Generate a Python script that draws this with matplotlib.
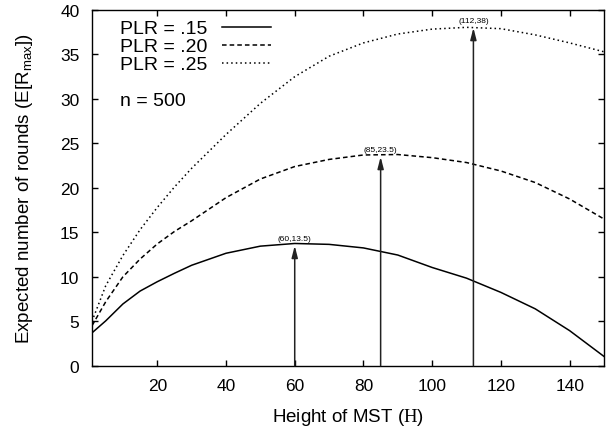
"""
Expected number of rounds vs height of MST for three PLR values.
"""

import matplotlib
matplotlib.use('Agg')
import matplotlib.pyplot as plt

plt.rcParams['font.family'] = ['Liberation Sans', 'DejaVu Sans']
plt.rcParams['mathtext.fontset'] = 'custom'
plt.rcParams['mathtext.rm'] = 'Liberation Serif'
plt.rcParams['mathtext.sf'] = 'Liberation Sans'

#######################################################################################################################
# Data

height = [1, 5, 10, 15, 20, 25, 30, 40, 50, 60, 70, 80, 90, 100, 110, 120, 130, 140, 150]

rounds_15 = [3.7, 5.05, 6.95, 8.4, 9.45, 10.4, 11.3, 12.65, 13.45, 13.75, 13.65, 13.25, 12.45,
             11.05, 9.85, 8.25, 6.4, 3.95, 1.05]
rounds_20 = [4.5, 7.2, 10.0, 12.0, 13.7, 15.1, 16.3, 18.9, 21.0, 22.4, 23.2, 23.7, 23.75,
             23.4, 22.85, 21.9, 20.6, 18.75, 16.5]
rounds_25 = [5.0, 9.0, 12.4, 15.3, 17.8, 20.1, 22.2, 26.0, 29.5, 32.5, 34.8, 36.3, 37.3,
             37.85, 38.05, 37.9, 37.2, 36.3, 35.3]

peak_x = [60, 85, 112]
peak_y = [13.5, 23.5, 38]
peak_labels = ['(60,13.5)', '(85,23.5)', '(112,38)']

legend_labels = ['PLR = .15', 'PLR = .20', 'PLR = .25']

#######################################################################################################################
# Plot

fig = plt.figure(figsize=(6.14, 4.31), dpi=100)
ax = fig.add_axes([0.1498, 0.149, 0.8339, 0.8255])

ax.plot(height, rounds_15, '-', color='black', lw=1.1, label=legend_labels[0])
ax.plot(height, rounds_20, '--', color='black', lw=1.1, dashes=(3, 2), label=legend_labels[1])
ax.plot(height, rounds_25, ':', color='black', lw=1.1, dashes=(1, 2), label=legend_labels[2])

# arrows up to the maxima
for px, py, lab in zip(peak_x, peak_y, peak_labels):
    ax.annotate('', xy=(px, py), xytext=(px, 0),
                arrowprops=dict(arrowstyle='-|>,head_length=0.7,head_width=0.18', color='#222222', lw=1.1,
                                shrinkA=0, shrinkB=0))
    ax.annotate(lab, xy=(px, py), xytext=(0, 3), textcoords='offset points',
                ha='center', va='bottom', fontsize=6)

ax.set_xlim(1, 150)
ax.set_ylim(0, 40)
ax.set_xticks(range(20, 141, 20))
ax.set_yticks(range(0, 41, 5))
ax.tick_params(direction='in', top=True, right=True, length=4, width=1, labelsize=12.5, pad=9)
for s in ax.spines.values():
    s.set_linewidth(1)

ax.set_xlabel(r'Height of MST ($\mathrm{H}$)', fontsize=13.5, labelpad=9)
ax.set_ylabel(r'Expected number of rounds (E[R$_{\mathsf{max}}$])', fontsize=13.5, labelpad=18)

ax.legend(loc='upper left', frameon=False, markerfirst=False, fontsize=14,
          handlelength=2.55, labelspacing=0.02, handletextpad=0.75, borderaxespad=0.1,
          bbox_to_anchor=(0.035, 1.0))
ax.text(0.055, 0.745, 'n = 500', transform=ax.transAxes, fontsize=14, ha='left', va='center')

plt.savefig('out.png', dpi=100)
